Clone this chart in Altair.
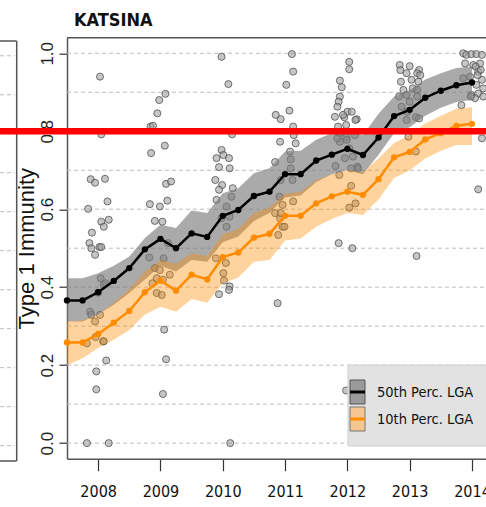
import altair as alt
import pandas as pd

# ---------------- data ----------------
quarters = [2007.5, 2007.75, 2008.0, 2008.25, 2008.5, 2008.75, 2009.0, 2009.25, 2009.5,
            2009.75, 2010.0, 2010.25, 2010.5, 2010.75, 2011.0, 2011.25, 2011.5, 2011.75,
            2012.0, 2012.25, 2012.5, 2012.75, 2013.0, 2013.25, 2013.5, 2013.75, 2014.0]
p50 = [0.366, 0.366, 0.387, 0.416, 0.449, 0.497, 0.524, 0.500, 0.538, 0.529, 0.583, 0.598, 0.634, 0.645,
       0.690, 0.690, 0.725, 0.740, 0.755, 0.739, 0.784, 0.839, 0.855, 0.886, 0.904, 0.918, 0.925]
p50_hi = [0.423, 0.423, 0.436, 0.455, 0.479, 0.526, 0.560, 0.552, 0.597, 0.590, 0.641, 0.654, 0.692, 0.705,
          0.748, 0.750, 0.778, 0.795, 0.805, 0.790, 0.845, 0.889, 0.906, 0.933, 0.949, 0.962, 0.966]
p50_lo = [0.312, 0.312, 0.330, 0.355, 0.385, 0.420, 0.455, 0.440, 0.470, 0.465, 0.515, 0.530, 0.570, 0.590,
          0.630, 0.635, 0.670, 0.690, 0.700, 0.690, 0.740, 0.795, 0.810, 0.840, 0.860, 0.875, 0.880]
p10 = [0.258, 0.258, 0.280, 0.309, 0.339, 0.387, 0.417, 0.391, 0.432, 0.420, 0.477, 0.489, 0.527, 0.537,
       0.583, 0.583, 0.615, 0.633, 0.645, 0.637, 0.677, 0.733, 0.747, 0.779, 0.795, 0.814, 0.819]
p10_hi = [0.312, 0.315, 0.330, 0.360, 0.395, 0.440, 0.470, 0.460, 0.487, 0.480, 0.535, 0.550, 0.590, 0.605,
          0.640, 0.645, 0.675, 0.690, 0.700, 0.695, 0.730, 0.770, 0.790, 0.820, 0.840, 0.858, 0.862]
p10_lo = [0.200, 0.218, 0.244, 0.265, 0.290, 0.330, 0.350, 0.337, 0.370, 0.360, 0.410, 0.425, 0.465, 0.470,
          0.520, 0.525, 0.555, 0.575, 0.590, 0.585, 0.625, 0.680, 0.700, 0.730, 0.750, 0.765, 0.765]

pt_year = [
    # ~2008
    2008.03, 2008.05, 2007.88, 2007.95, 2008.11, 2008.15, 2007.84, 2008.05, 2008.17, 2008.09, 2007.90,
    2007.86, 2007.89, 2007.95, 2008.02, 2008.05, 2008.04, 2008.09, 2008.12, 2008.00, 2007.87, 2007.89,
    2007.95, 2008.03, 2008.08, 2008.13, 2007.82, 2007.96, 2008.09, 2007.97, 2007.97, 2007.82, 2008.17,
    # ~2009
    2008.84, 2008.88, 2008.95, 2008.98, 2009.08, 2008.85, 2009.07, 2008.83, 2008.99, 2009.09, 2009.17,
    2009.11, 2008.91, 2009.03, 2009.12, 2008.82, 2009.05, 2008.91, 2008.99, 2008.94, 2009.04, 2009.15,
    2008.87, 2008.94, 2009.02, 2009.06, 2009.09, 2009.04,
    # ~2010
    2009.98, 2010.09, 2010.15, 2009.90, 2009.98, 2010.01, 2009.94, 2010.10, 2010.11, 2009.88, 2009.99,
    2009.94, 2010.16, 2009.90, 2010.14, 2010.06, 2009.98, 2010.11, 2010.06, 2009.89, 2010.05, 2010.01,
    2010.02, 2010.11, 2009.94, 2010.10, 2010.12,
    # ~2011
    2011.11, 2011.13, 2011.02, 2010.85, 2010.93, 2011.07, 2011.13, 2011.14, 2010.92, 2011.17, 2011.08,
    2011.09, 2010.84, 2010.93, 2010.91, 2010.96, 2010.84, 2010.92, 2010.96, 2010.89, 2011.12, 2011.09,
    2011.13, 2010.93, 2010.99, 2010.88,
    # ~2012
    2012.03, 2012.03, 2011.88, 2011.91, 2011.88, 2011.86, 2011.84, 2012.00, 2012.07, 2012.15, 2011.95,
    2011.87, 2011.98, 2011.88, 2012.03, 2011.96, 2012.16, 2012.06, 2011.81, 2011.87, 2012.06, 2012.13,
    2012.03, 2011.80, 2011.85, 2011.98, 2011.84, 2011.99, 2012.12, 2012.09, 2012.17, 2011.93, 2012.13,
    2011.86, 2012.08, 2011.98,
    # ~2013
    2012.84, 2012.85, 2013.00, 2013.15, 2013.12, 2013.17, 2012.95, 2012.86, 2013.03, 2013.14, 2012.90,
    2013.05, 2013.12, 2012.83, 2012.95, 2013.12, 2013.00, 2012.87, 2012.96, 2013.10, 2013.15, 2012.95,
    2012.98, 2013.10, 2013.11,
    # ~2014
    2013.86, 2013.91, 2013.99, 2014.07, 2014.16, 2013.89, 2014.02, 2014.13, 2014.10, 2013.97, 2014.16,
    2014.07, 2014.18, 2013.86, 2013.83, 2013.99, 2014.10, 2014.05, 2014.18, 2014.06, 2014.14, 2014.09,
    2013.98, 2014.16, 2014.10,
]
pt_value = [
    0.940, 0.792, 0.677, 0.668, 0.678, 0.620, 0.601, 0.568, 0.573, 0.555, 0.540,
    0.513, 0.500, 0.483, 0.503, 0.503, 0.423, 0.406, 0.410, 0.386, 0.337, 0.329,
    0.312, 0.329, 0.261, 0.212, 0.256, 0.272, 0.261, 0.184, 0.138, 0.000, 0.000,
    0.812, 0.814, 0.846, 0.880, 0.896, 0.744, 0.763, 0.613, 0.607, 0.665, 0.671,
    0.622, 0.570, 0.568, 0.513, 0.476, 0.474, 0.449, 0.444, 0.423, 0.419, 0.432,
    0.410, 0.385, 0.380, 0.291, 0.215, 0.126,
    0.991, 0.921, 0.792, 0.731, 0.752, 0.739, 0.708, 0.731, 0.705, 0.675, 0.662,
    0.650, 0.654, 0.624, 0.632, 0.607, 0.577, 0.581, 0.555, 0.474, 0.462, 0.436,
    0.417, 0.402, 0.382, 0.393, 0.000,
    0.998, 0.953, 0.919, 0.842, 0.831, 0.853, 0.812, 0.790, 0.773, 0.769, 0.748,
    0.728, 0.721, 0.675, 0.632, 0.611, 0.590, 0.577, 0.555, 0.534, 0.675, 0.705,
    0.620, 0.590, 0.555, 0.359,
    0.978, 0.959, 0.930, 0.913, 0.889, 0.876, 0.863, 0.850, 0.850, 0.831, 0.836,
    0.795, 0.785, 0.773, 0.756, 0.731, 0.709, 0.705, 0.711, 0.688, 0.660, 0.615,
    0.604, 0.837, 0.812, 0.816, 0.782, 0.778, 0.790, 0.735, 0.705, 0.842, 0.829,
    0.513, 0.500, 0.135,
    0.970, 0.957, 0.967, 0.957, 0.949, 0.944, 0.949, 0.927, 0.932, 0.927, 0.906,
    0.910, 0.906, 0.889, 0.893, 0.889, 0.876, 0.863, 0.850, 0.836, 0.833, 0.829,
    0.786, 0.748, 0.480,
    1.000, 0.996, 0.998, 0.998, 0.996, 0.974, 0.970, 0.974, 0.953, 0.940, 0.932,
    0.919, 0.910, 0.936, 0.867, 0.893, 0.897, 0.885, 0.889, 0.966, 0.957, 0.944,
    0.889, 0.782, 0.651,
]

grid_values = [0.0, 0.1, 0.2, 0.3, 0.4, 0.5, 0.6, 0.7, 0.8, 0.9, 1.0]
y_ticks = [0.0, 0.2, 0.4, 0.6, 0.8, 1.0]
x_ticks = [2008, 2009, 2010, 2011, 2012, 2013, 2014]
target_level = [0.8]
title_text = "KATSINA"
y_title = "Type 1 Immunity"
legend_labels = ["50th Perc. LGA", "10th Perc. LGA"]

# ---------------- layout ----------------
W = 419
H = 421
NARROW = "Liberation Sans Narrow, Arial Narrow, DejaVu Sans Condensed, Liberation Sans, sans-serif"
REG = "Liberation Sans, Arial, sans-serif"

xs = alt.Scale(domain=[2007.5, 2014.225], nice=False, zero=False)
ys = alt.Scale(domain=[-0.04, 1.04], nice=False, zero=False)

x_axis = alt.Axis(values=x_ticks, format="d", title=None, grid=False, tickSize=12,
                  tickColor="#333333", tickWidth=1.2, domainColor="#555555", domainWidth=1.5,
                  labelFont=NARROW, labelFontSize=16, labelColor="#111111", labelPadding=13,
                  labelFlush=False, labelOverlap=False)
y_axis = alt.Axis(values=y_ticks, format=".1f", title=y_title, grid=False, tickSize=8,
                  tickColor="#333333", tickWidth=1.2, domainColor="#555555", domainWidth=1.5,
                  labelFont=REG, labelFontSize=17, labelColor="#222222", labelAngle=270,
                  labelAlign="center", labelBaseline="bottom", labelPadding=3,
                  labelFlush=False, labelOverlap=False,
                  titleFont=REG, titleFontSize=22, titleFontWeight="normal", titleColor="#111111",
                  titleAngle=270, titleAlign="center", titleBaseline="bottom",
                  titleX=-29, titleY=H / 2)


def X(f):
    return alt.X(f, type="quantitative", scale=xs, axis=x_axis)


def Y(f):
    return alt.Y(f, type="quantitative", scale=ys, axis=y_axis)


one = pd.DataFrame({"k": [0]})
series = pd.DataFrame({"t": quarters, "p50": p50, "p50_lo": p50_lo, "p50_hi": p50_hi,
                       "p10": p10, "p10_lo": p10_lo, "p10_hi": p10_hi})
pts = pd.DataFrame({"year": pt_year, "value": pt_value})
grid = pd.DataFrame({"g": grid_values})
red = pd.DataFrame({"v": target_level})

# remnants of the neighbouring panel on the left
left_grid = alt.Chart(grid).mark_rule(color="#bdbdbd", strokeDash=[4, 3], strokeWidth=1, yOffset=2.5).encode(
    y=Y("g"), x=alt.value(-67), x2=alt.value(-52))
left_right = alt.Chart(one).mark_rule(color="#555555", strokeWidth=1.5).encode(
    x=alt.value(-50.3), y=alt.value(3.3), y2=alt.value(423.3))
left_top = alt.Chart(one).mark_rule(color="#555555", strokeWidth=1.5).encode(
    x=alt.value(-67), x2=alt.value(-50.3), y=alt.value(3.3))
left_bottom = alt.Chart(one).mark_rule(color="#555555", strokeWidth=1.5).encode(
    x=alt.value(-67), x2=alt.value(-50.3), y=alt.value(423.3))

gridlines = alt.Chart(grid).mark_rule(color="#bdbdbd", strokeDash=[4, 3], strokeWidth=1).encode(
    y=Y("g"), x=alt.value(0), x2=alt.value(W))
top_border = alt.Chart(one).mark_rule(color="#555555", strokeWidth=1.5).encode(
    x=alt.value(0), x2=alt.value(W + 5), y=alt.value(0))

scatter = alt.Chart(pts).mark_circle(size=50, fill="#a0a0a0", fillOpacity=0.6, stroke="#4a4a4a",
                                     strokeOpacity=0.75, strokeWidth=1).encode(x=X("year"), y=Y("value"))

band50 = alt.Chart(series).mark_area(color="#7a7a7a", opacity=0.64).encode(
    x=X("t"), y=Y("p50_lo"), y2="p50_hi")
band10 = alt.Chart(series).mark_area(color="#ff8c00", opacity=0.38).encode(
    x=X("t"), y=Y("p10_lo"), y2="p10_hi")

line50 = alt.Chart(series).mark_line(color="black", strokeWidth=2.5,
                                     point=alt.OverlayMarkDef(filled=True, size=40, color="black")).encode(
    x=X("t"), y=Y("p50"))
line10 = alt.Chart(series).mark_line(color="#ff8c00", strokeWidth=2.5,
                                     point=alt.OverlayMarkDef(filled=True, size=40, color="#ff8c00")).encode(
    x=X("t"), y=Y("p10"))

red_rule = alt.Chart(red).mark_rule(color="#ff0000", strokeWidth=6.5).encode(
    y=Y("v"), x=alt.value(-67), x2=alt.value(W + 5))

title = alt.Chart(one).mark_text(text=title_text, font=NARROW, fontSize=18, fontWeight="bold",
                                 align="left", baseline="alphabetic", color="#111111").encode(
    x=alt.value(7), y=alt.value(-11.5))

# legend
leg_box = alt.Chart(one).mark_rect(fill="#e2e2e2", stroke="#d0d0d0", strokeWidth=1).encode(
    x=alt.value(281), x2=alt.value(W + 5), y=alt.value(327.3), y2=alt.value(408.3))
sw1 = alt.Chart(one).mark_rect(fill="#9a9a9a", stroke="#555555", strokeWidth=1).encode(
    x=alt.value(283), x2=alt.value(298), y=alt.value(342.3), y2=alt.value(366.3))
sw1l = alt.Chart(one).mark_rule(color="black", strokeWidth=3).encode(
    x=alt.value(283), x2=alt.value(298), y=alt.value(354.3))
sw2 = alt.Chart(one).mark_rect(fill="#f5c690", stroke="#777777", strokeWidth=1).encode(
    x=alt.value(283), x2=alt.value(298), y=alt.value(369.3), y2=alt.value(393.3))
sw2l = alt.Chart(one).mark_rule(color="#ff8c00", strokeWidth=3).encode(
    x=alt.value(283), x2=alt.value(298), y=alt.value(381.3))
lt1 = alt.Chart(one).mark_text(text=legend_labels[0], font=NARROW, fontSize=14.5, align="left",
                               baseline="middle", color="#111111").encode(x=alt.value(310), y=alt.value(354.8))
lt2 = alt.Chart(one).mark_text(text=legend_labels[1], font=NARROW, fontSize=14.5, align="left",
                               baseline="middle", color="#111111").encode(x=alt.value(310), y=alt.value(381.8))

chart = alt.layer(
    left_grid, left_right, left_top, left_bottom,
    gridlines, top_border, scatter, band50, band10, line50, line10, red_rule, title,
    leg_box, sw1, sw1l, sw2, sw2l, lt1, lt2,
).properties(
    width=W, height=H,
    autosize=alt.AutoSizeParams(type="none"),
    padding={"left": 67, "top": 37.7, "right": 0, "bottom": 48.3},
    background="white",
).configure_view(stroke=None)

chart.save("out.html", embed_options={"renderer": "svg", "actions": False})
